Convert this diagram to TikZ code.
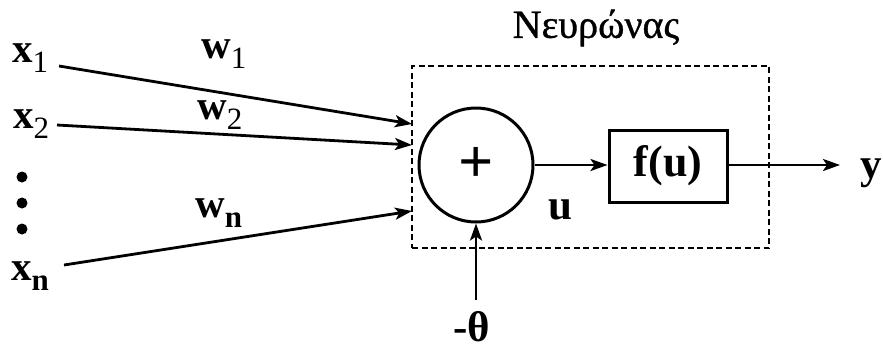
\documentclass[tikz,border=0pt]{standalone}
\usepackage{fontspec}
\setmainfont{Liberation Serif}
\newfontfamily\titlefont[FakeBold=0.8]{Liberation Serif}
\usetikzlibrary{arrows.meta}
\newcommand{\vsub}[2]{\textbf{#1}\raisebox{-10pt}{\fontsize{31}{31}\selectfont #2}}
\tikzset{
  lab/.style={inner sep=0pt, font=\fontsize{41}{41}\selectfont},
  big/.style={inner sep=0pt, font=\fontsize{43}{43}\selectfont\bfseries},
  arr/.style={line width=2.8pt, -{Stealth[length=17pt,width=12pt,inset=4pt]}},
  dotmark/.style={circle, fill, inner sep=0pt, minimum size=11pt},
  neuronbox/.style={draw, line width=2.6pt, dash pattern=on 6pt off 3.5pt, inner sep=0pt},
}
\begin{document}
\begin{tikzpicture}[x=1pt,y=-1pt]
\useasboundingbox (0,0) rectangle (883,349);
% inputs
\node[lab, anchor=base west] (x1) at (12,62) {\vsub{x}{\mdseries 1}};
\node[lab, anchor=base west] (x2) at (13,128) {\vsub{x}{\mdseries 2}};
\node[lab, anchor=base west] (xn) at (11,280) {\vsub{x}{\bfseries n}};
\node[dotmark] (d1) at (22,177) {};
\node[dotmark] (d2) at (22,203) {};
\node[dotmark] (d3) at (22,229) {};
% weights
\node[lab, anchor=base west] (w1) at (201,58) {\vsub{w}{\mdseries 1}};
\node[lab, anchor=base west] (w2) at (197,119) {\vsub{w}{\mdseries 2}};
\node[lab, anchor=base west] (wn) at (195,217) {\vsub{w}{\bfseries n}};
% neuron
\node[neuronbox, minimum width=357pt, minimum height=182pt] (neuron) at (590.5,157) {};
\node[inner sep=0pt, font=\fontsize{40}{40}\titlefont] (title) at (596,28) {Νευρώνας};
\node[circle, draw, line width=3pt, minimum size=114pt, inner sep=0pt,
      font=\fontsize{62}{62}\selectfont\bfseries] (sum) at (476,165) {+};
\node[draw, line width=3pt, minimum width=118pt, minimum height=72pt, inner sep=0pt,
      font=\fontsize{44}{44}\selectfont\bfseries] (f) at (668,166) {f(u)};
\node[big] (u) at (560,210) {u};
\node[big, anchor=base west] (y) at (860,178) {y};
\node[big, anchor=base] (theta) at (472,341) {-θ};
% connector ends
\coordinate (s1) at (59,66);
\coordinate (s2) at (57,125);
\coordinate (sn) at (64,265);
\coordinate (e1) at (412,124);
\coordinate (e2) at (412,145);
\coordinate (en) at (412,211);
\coordinate (thtail) at (476,300);
\coordinate (yend) at (840,165);
% connectors
\draw[arr] (s1) -- (e1);
\draw[arr] (s2) -- (e2);
\draw[arr] (sn) -- (en);
\draw[arr] (sum.east) -- (f.west |- sum.east);
\draw[arr] (f.east |- sum.east) -- (yend);
\draw[arr] (thtail) -- (sum.south);
\end{tikzpicture}
\end{document}
